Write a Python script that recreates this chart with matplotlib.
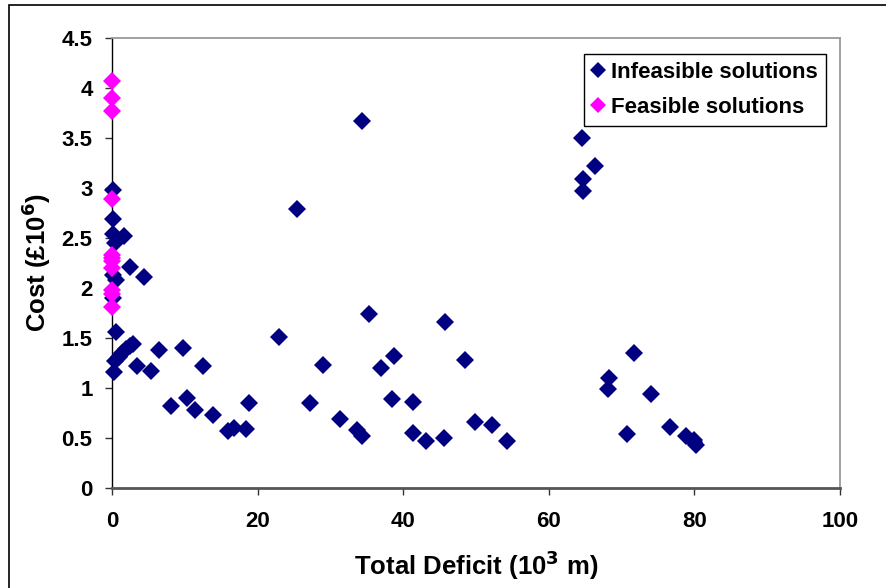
import matplotlib
matplotlib.use("Agg")
import matplotlib.pyplot as plt
from matplotlib.patches import Rectangle

plt.rcParams['font.family'] = ['Liberation Sans', 'DejaVu Sans']
plt.rcParams['font.weight'] = 'bold'

# Infeasible solutions (Total deficit 10^3 m, Cost £10^6)
infeasible_x = [0.1, 0.2, 0.1, 1.7, 0.4, 2.5, 4.4, 0.55, 0.2, 0.2, 0.55, 0.3,
                0.4, 0.9, 1.4, 1.9, 2.5, 2.9,
                3.5, 5.4, 6.5, 9.7, 12.5, 8.1, 10.3, 11.4, 13.9, 16.0, 16.8, 18.4, 18.8,
                23.0, 27.2, 34.4, 25.4, 35.3, 45.8, 29.0, 38.8, 36.9, 48.5, 38.5, 41.3,
                31.3, 33.7, 34.4, 41.3, 43.2, 45.6, 49.9, 52.2, 54.3,
                64.6, 66.3, 64.7, 64.7, 71.7, 68.3, 68.1, 74.0, 70.8, 76.7, 78.8, 79.9, 80.2, 80.0]
infeasible_y = [2.98, 2.69, 2.54, 2.52, 2.45, 2.21, 2.11, 2.08, 2.13, 1.90, 1.56, 1.16,
                1.27, 1.31, 1.35, 1.39, 1.42, 1.44,
                1.22, 1.17, 1.38, 1.40, 1.22, 0.82, 0.90, 0.78, 0.73, 0.57, 0.60, 0.59, 0.85,
                1.51, 0.85, 3.67, 2.79, 1.74, 1.66, 1.23, 1.32, 1.20, 1.28, 0.89, 0.86,
                0.69, 0.58, 0.52, 0.55, 0.47, 0.50, 0.66, 0.63, 0.47,
                3.50, 3.22, 3.09, 2.97, 1.35, 1.10, 0.99, 0.94, 0.54, 0.61, 0.52, 0.48, 0.43, 0.46]

# Feasible solutions
feasible_x = [0.05] * 11
feasible_y = [4.07, 3.90, 3.77, 2.89, 2.33, 2.30, 2.27, 2.20, 1.98, 1.94, 1.81]

x_ticks = [0, 20, 40, 60, 80, 100]
y_ticks = [0, 0.5, 1, 1.5, 2, 2.5, 3, 3.5, 4, 4.5]
y_tick_labels = ['0', '0.5', '1', '1.5', '2', '2.5', '3', '3.5', '4', '4.5']

fig = plt.figure(figsize=(8.86, 5.88), dpi=100)
ax = fig.add_axes([112/886, 1 - 487.7/588, 728/886, 450/588])

ax.plot(infeasible_x, infeasible_y, linestyle='none', marker='D', markersize=9.6,
        color='#000080', markeredgewidth=0, label='Infeasible solutions', clip_on=False, zorder=3)
ax.plot(feasible_x, feasible_y, linestyle='none', marker='D', markersize=9.6,
        color='#FF00FF', markeredgewidth=0, label='Feasible solutions', clip_on=False, zorder=4)

ax.set_xlim(0, 100)
ax.set_ylim(0, 4.5)
ax.set_xticks(x_ticks)
ax.set_yticks(y_ticks)
ax.set_yticklabels(y_tick_labels)
ax.tick_params(axis='both', direction='out', length=5, width=1, labelsize=16, color='#333333')
ax.tick_params(axis='x', pad=12)
ax.tick_params(axis='y', pad=9)
for lab in ax.get_xticklabels() + ax.get_yticklabels():
    lab.set_fontweight('bold')
    lab.set_fontsize(16)

ax.spines['left'].set_color('black')
ax.spines['left'].set_linewidth(1)
ax.spines['bottom'].set_color('#555555')
ax.spines['bottom'].set_linewidth(2)
ax.spines['top'].set_color('#999999')
ax.spines['top'].set_linewidth(1.3)
ax.spines['right'].set_color('#999999')
ax.spines['right'].set_linewidth(1.3)

ax.set_xlabel('Total Deficit (10$^{\\mathbf{3}}$ m)', fontsize=18.5, fontweight='bold', labelpad=12)
ax.set_ylabel('Cost (£10$^{\\mathbf{6}}$)', fontsize=18.5, fontweight='bold', labelpad=6)

leg = ax.legend(loc='upper right', bbox_to_anchor=((826-112)/728, (487.7-54)/450),
                borderaxespad=0, fontsize=16, frameon=True, fancybox=False,
                edgecolor='black', framealpha=1, handlelength=0.55, handletextpad=0.35,
                borderpad=0.35, labelspacing=0.65, markerscale=0.85)
leg.get_frame().set_linewidth(1)
for t in leg.get_texts():
    t.set_fontweight('bold')

# outer frame
fig.patches.append(Rectangle((9/886, -0.05), 1.0, 1 - 5/588 + 0.05, transform=fig.transFigure,
                             fill=False, edgecolor='black', linewidth=1.2, clip_on=False))

fig.savefig('out.png', dpi=100)
